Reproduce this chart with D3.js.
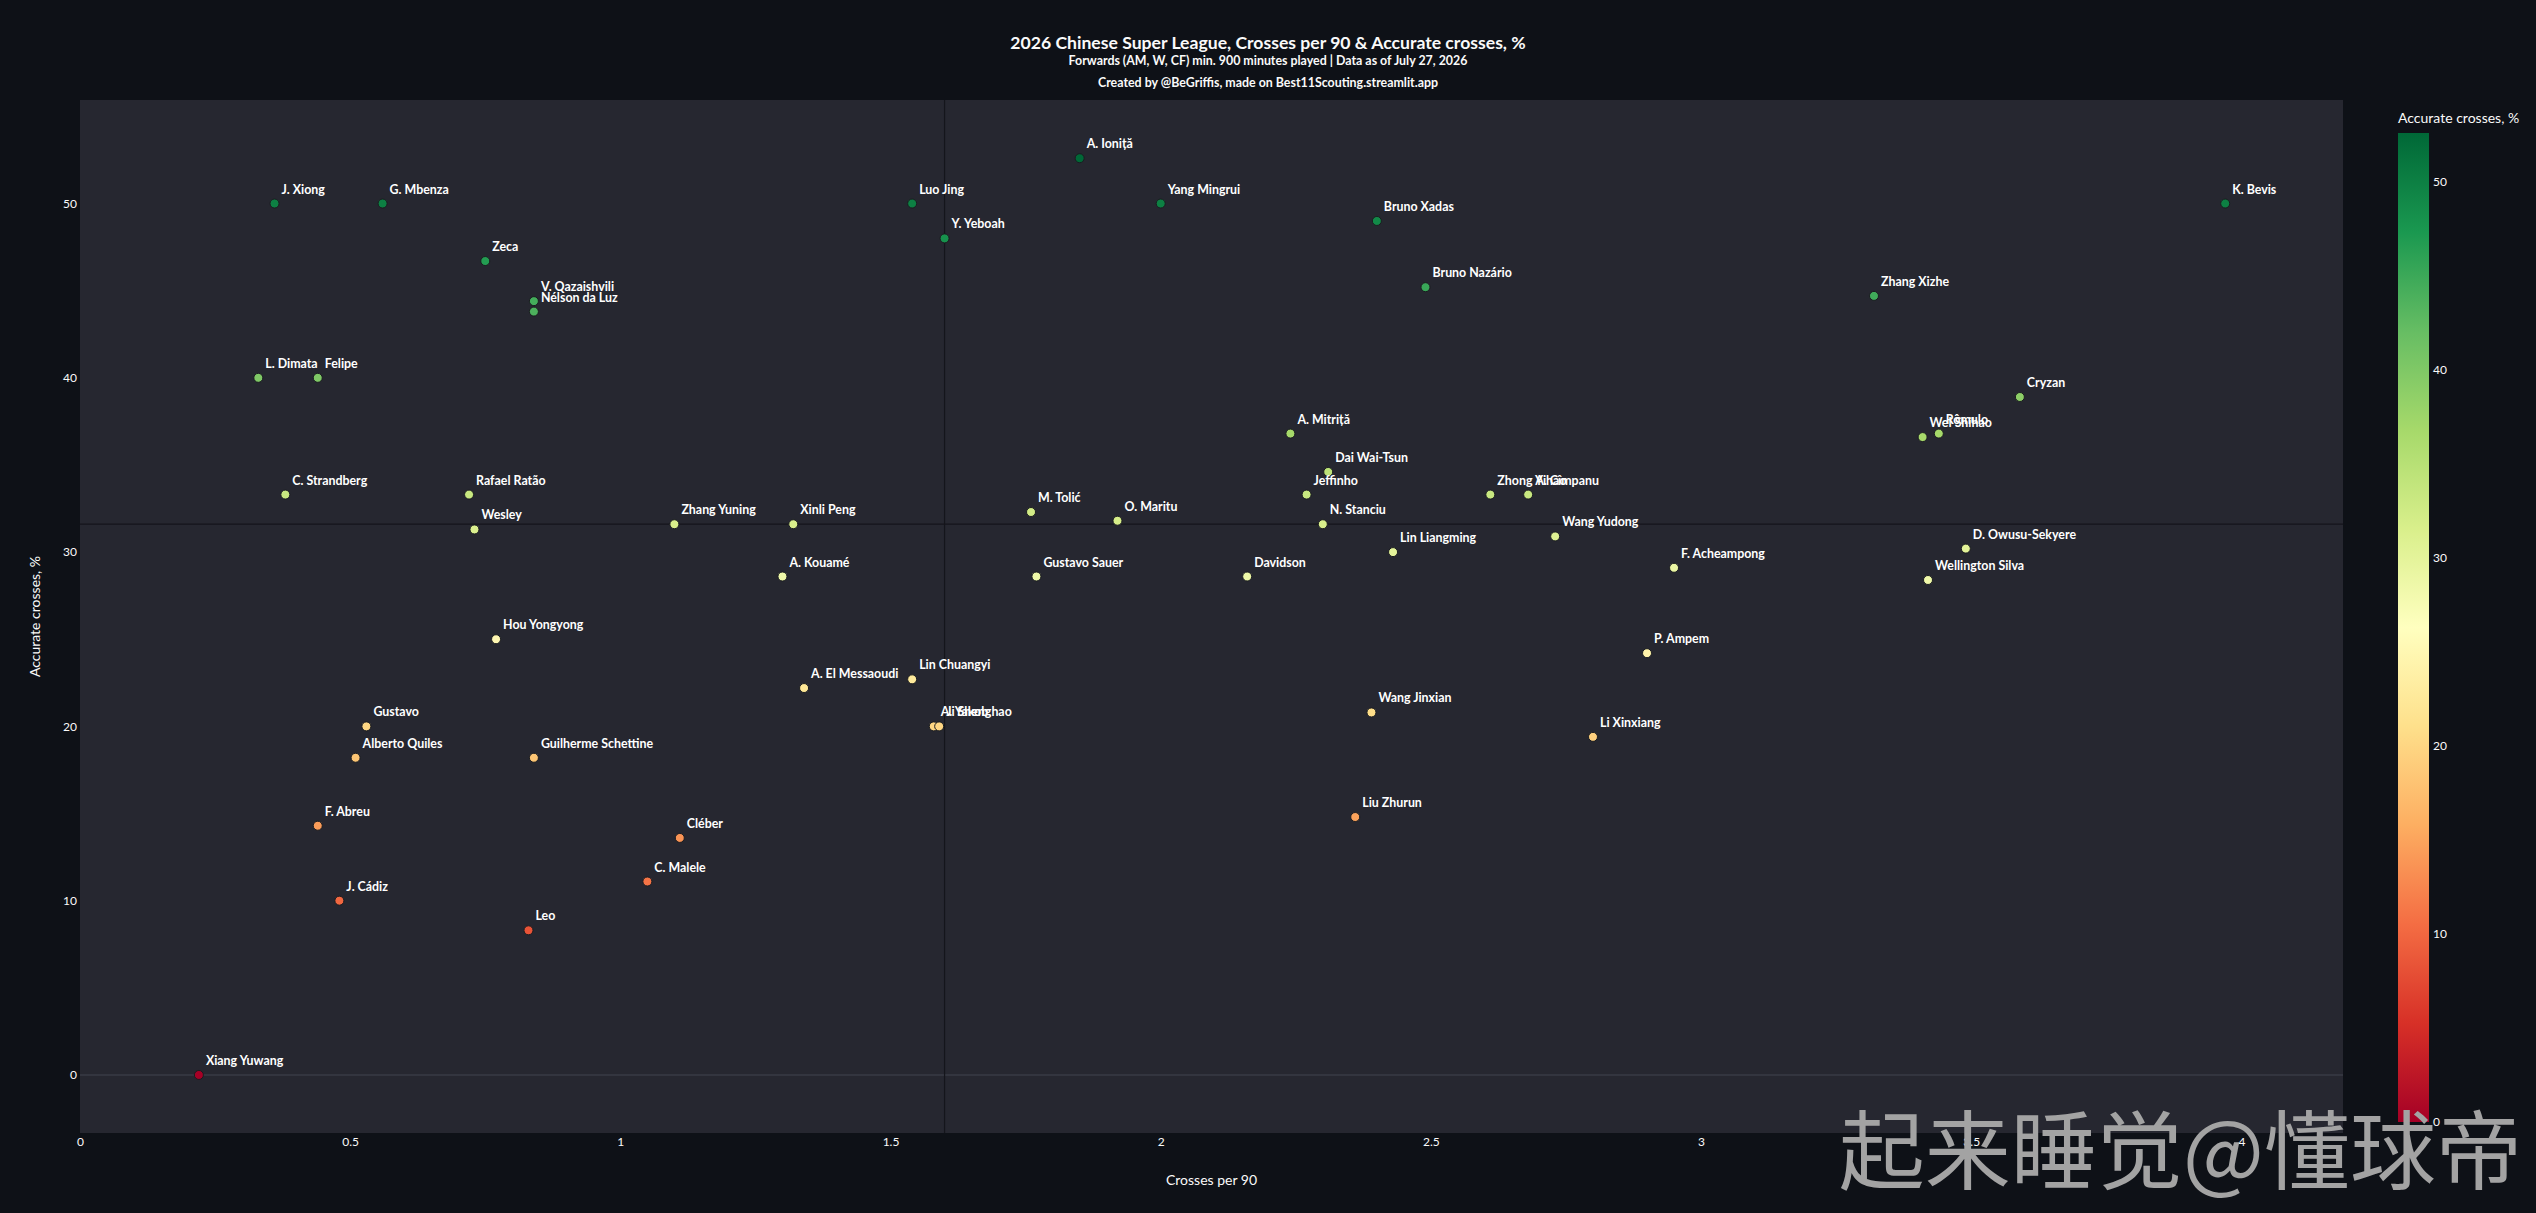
<!DOCTYPE html>
<html>
<head>
<meta charset="utf-8">
<script src="https://cdn.jsdelivr.net/npm/d3@7"></script>
<style>
  body { margin: 0; background: #0e1117; }
  svg text { font-family: Lato, "Noto Sans", sans-serif; }
</style>
</head>
<body>
<svg id="chart" width="2536" height="1213"></svg>
<script>
// players and values
const players = [
  "J. Xiong", "G. Mbenza", "Luo Jing", "Yang Mingrui", "A. Ioniță", "Y. Yeboah", "Zeca",
  "V. Qazaishvili", "Nélson da Luz", "L. Dimata", "Felipe", "Bruno Xadas", "Bruno Nazário",
  "Zhang Xizhe", "K. Bevis", "Cryzan", "Wei Shihao", "Rômulo", "D. Owusu-Sekyere",
  "Wellington Silva", "C. Strandberg", "Rafael Ratão", "Wesley", "Zhang Yuning",
  "Hou Yongyong", "Gustavo", "Alberto Quiles", "Guilherme Schettine", "F. Abreu",
  "Xinli Peng", "A. Kouamé", "M. Tolić", "O. Maritu", "Gustavo Sauer", "Davidson",
  "A. El Messaoudi", "Lin Chuangyi", "A. Yakob", "Ji Shenghao", "Cléber", "C. Malele",
  "J. Cádiz", "Leo", "Xiang Yuwang", "A. Mitriță", "Dai Wai-Tsun", "Jeffinho",
  "Zhong Yihao", "A. Cîmpanu", "N. Stanciu", "Wang Yudong", "Lin Liangming",
  "F. Acheampong", "P. Ampem", "Wang Jinxian", "Li Xinxiang", "Liu Zhurun"
];
const crossesPer90 = [
  0.36, 0.56, 1.54, 2.00, 1.85, 1.60, 0.75,
  0.84, 0.84, 0.33, 0.44, 2.40, 2.49,
  3.32, 3.97, 3.59, 3.41, 3.44, 3.49,
  3.42, 0.38, 0.72, 0.73, 1.10,
  0.77, 0.53, 0.51, 0.84, 0.44,
  1.32, 1.30, 1.76, 1.92, 1.77, 2.16,
  1.34, 1.54, 1.58, 1.59, 1.11, 1.05,
  0.48, 0.83, 0.22, 2.24, 2.31, 2.27,
  2.61, 2.68, 2.30, 2.73, 2.43,
  2.95, 2.90, 2.39, 2.80, 2.36
];
const accurateCrosses = [
  50.0, 50.0, 50.0, 50.0, 52.6, 48.0, 46.7,
  44.4, 43.8, 40.0, 40.0, 49.0, 45.2,
  44.7, 50.0, 38.9, 36.6, 36.8, 30.2,
  28.4, 33.3, 33.3, 31.3, 31.6,
  25.0, 20.0, 18.2, 18.2, 14.3,
  31.6, 28.6, 32.3, 31.8, 28.6, 28.6,
  22.2, 22.7, 20.0, 20.0, 13.6, 11.1,
  10.0, 8.3, 0.0, 36.8, 34.6, 33.3,
  33.3, 33.3, 31.6, 30.9, 30.0,
  29.1, 24.2, 20.8, 19.4, 14.8
];
// average lines
const avgCrosses = 1.6;
const avgAccuracy = 31.6;

const xTicks = [0, 0.5, 1, 1.5, 2, 2.5, 3, 3.5, 4];
const yTicks = [0, 10, 20, 30, 40, 50];
const cbTicks = [0, 10, 20, 30, 40, 50];

const titleText = "2026 Chinese Super League, Crosses per 90 & Accurate crosses, %";
const subtitleText = "Forwards (AM, W, CF) min. 900 minutes played | Data as of July 27, 2026";
const creditText = "Created by @BeGriffis, made on Best11Scouting.streamlit.app";
const watermark = "起来睡觉@懂球帝";

// plotly RdYlGn
const rdYlGn = ["#a50026", "#d73027", "#f46d43", "#fdae61", "#fee08b", "#ffffbf",
  "#d9ef8b", "#a6d96a", "#66bd63", "#1a9850", "#006837"];

const data = players.map((p, i) => ({ name: p, x: crossesPer90[i], y: accurateCrosses[i] }));

const svg = d3.select("#chart");
const W = 2536, H = 1213;
const plot = { left: 80, right: 2343, top: 100, bottom: 1133 };

const xScale = d3.scaleLinear().domain([0, 4.188]).range([plot.left, plot.right]);
const yScale = d3.scaleLinear().domain([-3.33, 55.94]).range([plot.bottom, plot.top]);

const cMax = d3.max(accurateCrosses);
const colorScale = d3.scaleLinear()
  .domain(rdYlGn.map((c, i) => i / (rdYlGn.length - 1) * cMax))
  .range(rdYlGn);

svg.append("rect").attr("width", W).attr("height", H).attr("fill", "#0e1117");

svg.append("rect")
  .attr("x", plot.left).attr("y", plot.top)
  .attr("width", plot.right - plot.left).attr("height", plot.bottom - plot.top)
  .attr("fill", "#262730");

// zero line
svg.append("line")
  .attr("x1", plot.left).attr("x2", plot.right)
  .attr("y1", yScale(0)).attr("y2", yScale(0))
  .attr("stroke", "#33353f").attr("stroke-width", 2);

// mean lines
svg.append("line")
  .attr("x1", xScale(avgCrosses)).attr("x2", xScale(avgCrosses))
  .attr("y1", plot.top).attr("y2", plot.bottom)
  .attr("stroke", "#14151b").attr("stroke-width", 1.2);
svg.append("line")
  .attr("x1", plot.left).attr("x2", plot.right)
  .attr("y1", yScale(avgAccuracy)).attr("y2", yScale(avgAccuracy))
  .attr("stroke", "#14151b").attr("stroke-width", 1.2);

// axes
const xAxis = svg.append("g")
  .attr("transform", `translate(0,${plot.bottom})`)
  .call(d3.axisBottom(xScale).tickValues(xTicks).tickSize(0).tickPadding(4).tickFormat(d => String(d)));
const yAxis = svg.append("g")
  .attr("transform", `translate(${plot.left},0)`)
  .call(d3.axisLeft(yScale).tickValues(yTicks).tickSize(0).tickPadding(3).tickFormat(d => String(d)));
[xAxis, yAxis].forEach(a => {
  a.select(".domain").remove();
  a.selectAll("text").attr("fill", "#fafafa").style("font-size", "12px");
});

svg.append("text")
  .attr("x", (plot.left + plot.right) / 2).attr("y", 1185)
  .attr("text-anchor", "middle").attr("fill", "#fafafa")
  .style("font-size", "14px").text("Crosses per 90");

svg.append("text")
  .attr("transform", `translate(40,${(plot.top + plot.bottom) / 2}) rotate(-90)`)
  .attr("text-anchor", "middle").attr("fill", "#fafafa")
  .style("font-size", "14px").text("Accurate crosses, %");

// points
svg.append("g").selectAll("circle")
  .data(data)
  .join("circle")
  .attr("cx", d => xScale(d.x))
  .attr("cy", d => yScale(d.y))
  .attr("r", 4.5)
  .attr("fill", d => colorScale(d.y))
  .attr("stroke", "#1a1c20")
  .attr("stroke-width", 1);

svg.append("g").selectAll("text")
  .data(data)
  .join("text")
  .attr("x", d => xScale(d.x) + 7)
  .attr("y", d => yScale(d.y) - 10)
  .attr("fill", "#ffffff")
  .style("font-size", "12.4px")
  .style("font-weight", 700)
  .text(d => d.name);

// titles
svg.append("text")
  .attr("x", W / 2).attr("y", 49)
  .attr("text-anchor", "middle").attr("fill", "#fafafa")
  .style("font-size", "17.6px").style("font-weight", 700)
  .text(titleText);
svg.append("text")
  .attr("x", W / 2).attr("y", 65)
  .attr("text-anchor", "middle").attr("fill", "#fafafa")
  .style("font-size", "12.4px").style("font-weight", 700)
  .text(subtitleText);
svg.append("text")
  .attr("x", W / 2).attr("y", 87)
  .attr("text-anchor", "middle").attr("fill", "#fafafa")
  .style("font-size", "12.4px").style("font-weight", 700)
  .text(creditText);

// colorbar
const cb = { x: 2398, width: 31, top: 133, bottom: 1122 };
const cbScale = d3.scaleLinear().domain([0, cMax]).range([cb.bottom, cb.top]);
const grad = svg.append("defs").append("linearGradient")
  .attr("id", "cbgrad").attr("x1", 0).attr("y1", 1).attr("x2", 0).attr("y2", 0);
grad.selectAll("stop")
  .data(rdYlGn)
  .join("stop")
  .attr("offset", (c, i) => i / (rdYlGn.length - 1))
  .attr("stop-color", c => c);
svg.append("rect")
  .attr("x", cb.x).attr("y", cb.top)
  .attr("width", cb.width).attr("height", cb.bottom - cb.top)
  .attr("fill", "url(#cbgrad)");
const cbAxis = svg.append("g")
  .attr("transform", `translate(${cb.x + cb.width},0)`)
  .call(d3.axisRight(cbScale).tickValues(cbTicks).tickSize(0).tickPadding(4));
cbAxis.select(".domain").remove();
cbAxis.selectAll("text").attr("fill", "#fafafa").style("font-size", "12px");

svg.append("text")
  .attr("x", cb.x).attr("y", 123)
  .attr("fill", "#fafafa")
  .style("font-size", "14px")
  .text("Accurate crosses, %");

// watermark
svg.append("text")
  .attr("x", 2522).attr("y", 1183)
  .attr("text-anchor", "end")
  .attr("fill", "#a3a3a3")
  .style("font-family", "'Noto Sans CJK SC', sans-serif")
  .style("font-size", "86px")
  .text(watermark);
</script>
</body>
</html>
